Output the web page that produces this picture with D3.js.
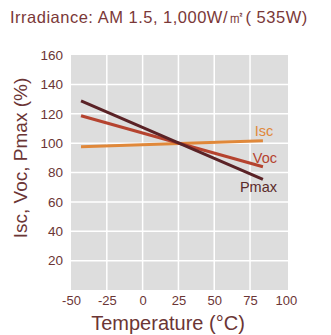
<!DOCTYPE html>
<html>
<head>
<meta charset="utf-8">
<script src="https://cdn.jsdelivr.net/npm/d3@7"></script>
<style>
  body { margin: 0; background: #fff; }
  svg { display: block; font-family: "Liberation Sans", Arial, sans-serif; }
</style>
</head>
<body>
<div id="chart"></div>
<script>
// temperature endpoints of each line (°C)
const temps = [-43, 84];
const iscValues = [97.6, 101.7];
const vocValues = [118.6, 83.9];
const pmaxValues = [128.8, 75.3];
const xTicks = [-50, -25, 0, 25, 50, 75, 100];
const yTicks = [20, 40, 60, 80, 100, 120, 140, 160];

const series = [
  { name: 'Isc', values: iscValues, color: '#e0883a', labelColor: '#e0883a', dx: 1, dy: -4.5 },
  { name: 'Voc', values: vocValues, color: '#b5432f', labelColor: '#b5432f', dx: 2, dy: -4 },
  { name: 'Pmax', values: pmaxValues, color: '#5a2226', labelColor: '#5a2a2a', dx: -4.5, dy: 12.5 },
];

const width = 331, height = 335;
const margin = { top: 55, right: 43, bottom: 45, left: 71 };
const textColor = '#6b3535';

const svg = d3.select('#chart')
  .append('svg')
  .attr('width', width)
  .attr('height', height);

const x = d3.scaleLinear().domain([-50, 101.5]).range([margin.left, width - margin.right]);
const y = d3.scaleLinear().domain([0, 160]).range([height - margin.bottom, margin.top]);

// title
svg.append('text')
  .attr('x', 10)
  .attr('y', 23)
  .attr('fill', '#7a3838')
  .style('font-size', '16.5px')
  .style('letter-spacing', '0.5px')
  .text('Irradiance: AM 1.5, 1,000W/㎡( 535W)');

// plot background
svg.append('rect')
  .attr('x', x(-50))
  .attr('y', y(160))
  .attr('width', x(101.5) - x(-50))
  .attr('height', y(0) - y(160))
  .attr('fill', '#dddddd');

// grid
svg.append('g')
  .selectAll('line')
  .data(xTicks.slice(1, -1))
  .enter()
  .append('line')
  .attr('x1', (d) => x(d))
  .attr('x2', (d) => x(d))
  .attr('y1', y(0))
  .attr('y2', y(160))
  .attr('stroke', '#fff')
  .attr('stroke-width', 1.5);

svg.append('g')
  .selectAll('line')
  .data(yTicks.slice(0, -1))
  .enter()
  .append('line')
  .attr('x1', x(-50))
  .attr('x2', x(101.5))
  .attr('y1', (d) => y(d))
  .attr('y2', (d) => y(d))
  .attr('stroke', '#fff')
  .attr('stroke-width', 1.5);

// axes (labels only), plain hyphen for negatives
const fmt = (d) => String(d);

const xAxis = svg.append('g')
  .attr('transform', `translate(0,${y(0)})`)
  .call(d3.axisBottom(x).tickValues(xTicks).tickFormat(fmt).tickSize(0).tickPadding(6));
xAxis.select('.domain').remove();
xAxis.selectAll('text')
  .attr('fill', textColor)
  .style('font-size', '13px')
  .style('font-family', '"Liberation Sans", Arial, sans-serif');

const yAxis = svg.append('g')
  .attr('transform', `translate(${x(-50)},0)`)
  .call(d3.axisLeft(y).tickValues(yTicks).tickFormat(fmt).tickSize(0).tickPadding(8));
yAxis.select('.domain').remove();
yAxis.selectAll('text')
  .attr('fill', textColor)
  .style('font-size', '13.5px')
  .style('font-family', '"Liberation Sans", Arial, sans-serif');

// axis titles
svg.append('text')
  .attr('x', 168)
  .attr('y', 330)
  .attr('text-anchor', 'middle')
  .attr('fill', textColor)
  .style('font-size', '20px')
  .text('Temperature (°C)');

svg.append('text')
  .attr('transform', `translate(27,158) rotate(-90)`)
  .attr('text-anchor', 'middle')
  .attr('fill', textColor)
  .style('font-size', '19px')
  .text('Isc, Voc, Pmax (%)');

// lines
const line = d3.line()
  .x((d, i) => x(temps[i]))
  .y((d) => y(d));

svg.append('g')
  .selectAll('path')
  .data(series)
  .enter()
  .append('path')
  .attr('d', (s) => line(s.values))
  .attr('fill', 'none')
  .attr('stroke', (s) => s.color)
  .attr('stroke-width', 3);

// line labels
svg.append('g')
  .selectAll('text')
  .data(series)
  .enter()
  .append('text')
  .attr('x', (s) => x(temps[1]) + s.dx)
  .attr('y', (s) => y(s.values[1]) + s.dy)
  .attr('text-anchor', 'middle')
  .attr('fill', (s) => s.labelColor)
  .style('font-size', '14.5px')
  .text((s) => s.name);
</script>
</body>
</html>
